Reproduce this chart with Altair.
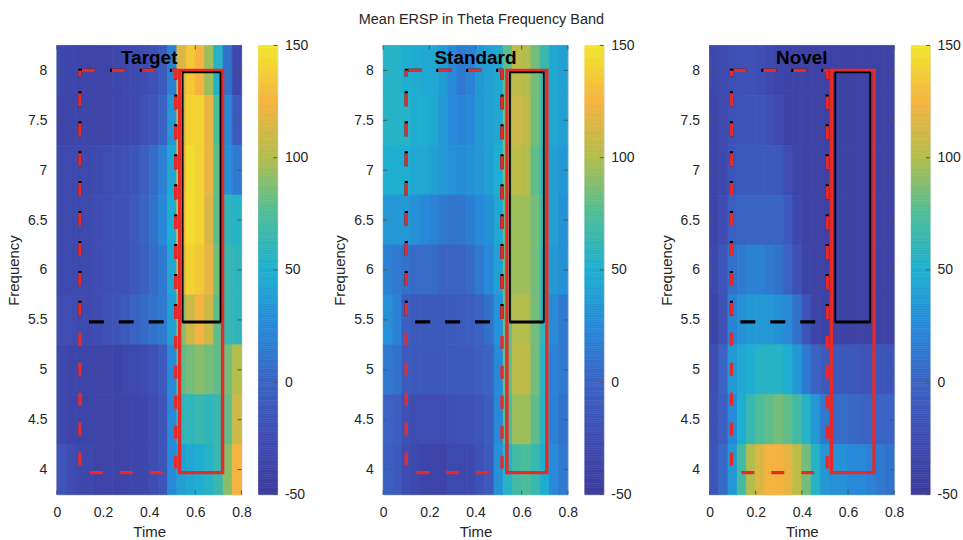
import altair as alt
import pandas as pd

# ---------------- data ----------------
times = [0.02, 0.06, 0.10, 0.14, 0.18, 0.22, 0.26, 0.30, 0.34, 0.38,
         0.42, 0.46, 0.50, 0.54, 0.58, 0.62, 0.66, 0.70, 0.74, 0.78]
freqs = [8.0, 7.5, 7.0, 6.5, 6.0, 5.5, 5.0, 4.5, 4.0]

target = [
    [-30, -32, -35, -35, -35, -35, -33, -30, -28, -25, -20, -10, 20, 115, 135, 125, 95, 55, 10, -30],
    [-35, -35, -35, -35, -35, -35, -33, -30, -28, -20, -15, 0, 35, 115, 140, 140, 120, 75, 25, -10],
    [-30, -30, -30, -30, -28, -25, -22, -20, -15, -5, 5, 20, 45, 120, 145, 140, 120, 80, 30, 15],
    [-30, -30, -30, -28, -25, -22, -20, -18, -10, 0, 10, 25, 50, 125, 145, 140, 115, 80, 60, 55],
    [-30, -30, -30, -28, -25, -22, -20, -20, -12, -5, 5, 15, 45, 115, 140, 135, 120, 85, 65, 60],
    [-25, -25, -28, -28, -25, -20, -15, -10, 0, 5, 10, 15, 40, 90, 110, 125, 110, 80, 65, 60],
    [-30, -35, -35, -35, -35, -35, -35, -33, -30, -25, -20, -10, 25, 80, 85, 90, 85, 80, 85, 100],
    [-30, -35, -35, -35, -35, -35, -35, -35, -33, -30, -25, -15, 25, 60, 60, 65, 60, 65, 80, 110],
    [-15, -25, -30, -32, -35, -35, -35, -35, -33, -30, -25, -15, 25, 40, 45, 50, 55, 65, 90, 125],
]
standard = [
    [55, 55, 50, 48, 45, 45, 38, 25, 15, 20, 35, 40, 45, 80, 105, 100, 85, 65, 45, 40],
    [55, 55, 55, 50, 50, 45, 35, 25, 22, 25, 35, 40, 45, 85, 110, 105, 85, 65, 45, 40],
    [50, 50, 50, 45, 45, 40, 35, 30, 28, 30, 35, 40, 50, 85, 105, 100, 80, 60, 40, 35],
    [35, 35, 35, 30, 25, 20, 15, 12, 12, 18, 25, 30, 45, 80, 95, 95, 85, 65, 40, 30],
    [20, 15, 10, 5, 5, 5, 0, 0, 0, 5, 15, 25, 40, 80, 95, 95, 85, 60, 35, 30],
    [30, 20, -5, -10, -10, -10, -10, -10, -8, -5, 0, 10, 30, 80, 100, 100, 85, 60, 25, 15],
    [15, 10, -10, -12, -12, -12, -12, -10, -10, -10, -5, 0, 25, 80, 105, 105, 85, 55, 20, 15],
    [0, -5, -20, -25, -25, -25, -25, -22, -20, -20, -15, -5, 25, 75, 95, 95, 80, 55, 20, 10],
    [-5, -10, -25, -30, -35, -35, -35, -30, -30, -28, -20, -10, 30, 55, 70, 75, 65, 50, 25, 15],
]
novel = [
    [-30, -28, -22, -20, -20, -22, -28, -35, -38, -38, -38, -40, -40, -40, -40, -40, -40, -40, -40, -40],
    [-35, -30, -20, -15, -15, -15, -20, -30, -38, -40, -40, -40, -40, -40, -40, -40, -40, -40, -40, -40],
    [-35, -30, -15, -10, -10, -10, -10, -12, -25, -35, -40, -40, -40, -40, -40, -40, -40, -40, -40, -40],
    [-35, -25, -5, 0, 0, 0, 0, 0, -10, -30, -40, -40, -40, -40, -40, -40, -40, -40, -40, -40],
    [-30, -15, 10, 15, 20, 20, 15, 10, 0, -20, -35, -40, -40, -40, -40, -40, -40, -40, -40, -40],
    [-35, -20, 20, 30, 35, 35, 35, 30, 25, 10, -15, -35, -38, -40, -40, -40, -40, -40, -40, -40],
    [-25, 0, 35, 45, 50, 55, 55, 55, 50, 35, 15, 0, -10, -12, -12, -12, -15, -15, -15, -15],
    [-20, -5, 25, 50, 65, 75, 80, 85, 80, 70, 55, 35, 15, 5, 5, 3, 0, 0, 0, 0],
    [-15, 5, 35, 70, 100, 115, 125, 125, 120, 105, 85, 55, 35, 30, 30, 25, 25, 20, 15, 10],
]

panel_names = ["Target", "Standard", "Novel"]
panel_values = [target, standard, novel]

# analysis windows (time x frequency) drawn on each panel
dashed_x = [[0.10, 0.515], [0.10, 0.515], [0.095, 0.51]]
red_x = [[0.532, 0.718], [0.536, 0.709], [0.528, 0.713]]
black_x = [[0.545, 0.709], [0.549, 0.696], [0.545, 0.696]]
dashed_black_y = [5.48, 8.0]
red_y = [3.97, 8.0]
black_y = [5.48, 7.98]

x_ticks = [0, 0.2, 0.4, 0.6, 0.8]
y_ticks = [4, 4.5, 5, 5.5, 6, 6.5, 7, 7.5, 8]
cbar_ticks = [-50, 0, 50, 100, 150]

title_text = "Mean ERSP in Theta Frequency Band"

# ---------------- styling ----------------
FONT = "Liberation Sans"
TXT = "#262626"
RED = "#e62a2a"
cmap_domain = [-50, -25, 0, 25, 50, 75, 100, 125, 150]
cmap_range = ["#3b3b9b", "#3f4cb2", "#3a63c3", "#2789d8", "#1eafd0",
              "#4cbd98", "#b2bd4c", "#f5b33f", "#f2e62c"]
cscale = alt.Scale(domain=cmap_domain, range=cmap_range, interpolate="rgb")

W, H = 185, 450
CW = 19

xscale = alt.Scale(domain=[0, 0.8], nice=False, zero=False)
yscale = alt.Scale(domain=[3.75, 8.25], nice=False, zero=False)


def heat_df(vals):
    rows = []
    for i, f in enumerate(freqs):
        for j, t in enumerate(times):
            rows.append({"t0": round(t - 0.02, 4), "t1": round(t + 0.02, 4),
                         "f0": f - 0.25, "f1": f + 0.25, "v": vals[i][j]})
    return pd.DataFrame(rows)


def make_panel(k):
    name = panel_names[k]
    df = heat_df(panel_values[k])
    heat = alt.Chart(df).mark_rect(strokeWidth=0.8).encode(
        x=alt.X("t0:Q", scale=xscale,
                axis=alt.Axis(values=x_ticks, format=".1~f", title="Time", grid=False,
                              ticks=False, domain=False, labelFlush=False,
                              labelPadding=11, titlePadding=5,
                              labelFontSize=14, titleFontSize=15,
                              labelFont=FONT, titleFont=FONT,
                              labelColor=TXT, titleColor=TXT, titleFontWeight="normal")),
        x2="t1:Q",
        y=alt.Y("f0:Q", scale=yscale,
                axis=alt.Axis(values=y_ticks, format=".1~f", title="Frequency", grid=False,
                              ticks=False, domain=False, labelFlush=False,
                              labelPadding=10, titlePadding=6,
                              labelFontSize=14, titleFontSize=15,
                              labelFont=FONT, titleFont=FONT,
                              labelColor=TXT, titleColor=TXT, titleFontWeight="normal")),
        y2="f1:Q",
        color=alt.Color("v:Q", scale=cscale, legend=None),
        stroke=alt.Stroke("v:Q", scale=cscale, legend=None),
    )

    ydf = pd.DataFrame({"f": y_ticks})
    xdf = pd.DataFrame({"t": x_ticks})
    tick_style = dict(color="#555555", strokeWidth=1)
    yl = alt.Chart(ydf).mark_rule(**tick_style).encode(
        y=alt.Y("f:Q", scale=yscale), x=alt.value(0), x2=alt.value(4))
    yr = alt.Chart(ydf).mark_rule(**tick_style).encode(
        y=alt.Y("f:Q", scale=yscale), x=alt.value(W - 4), x2=alt.value(W))
    xb = alt.Chart(xdf).mark_rule(**tick_style).encode(
        x=alt.X("t:Q", scale=xscale), y=alt.value(H - 4), y2=alt.value(H))
    xt = alt.Chart(xdf).mark_rule(**tick_style).encode(
        x=alt.X("t:Q", scale=xscale), y=alt.value(0), y2=alt.value(4))

    def box_df(xs, ys):
        return pd.DataFrame({"x0": [xs[0]], "x1": [xs[1]], "y0": [ys[0]], "y1": [ys[1]]})

    def box_enc(c):
        return c.encode(x=alt.X("x0:Q", scale=xscale), x2="x1:Q",
                        y=alt.Y("y0:Q", scale=yscale), y2="y1:Q")

    black_dash = box_enc(alt.Chart(box_df(dashed_x[k], dashed_black_y)).mark_rect(
        fill="transparent", stroke="black", strokeWidth=3.2, strokeDash=[15, 15]))
    red_dash = box_enc(alt.Chart(box_df(dashed_x[k], red_y)).mark_rect(
        fill="transparent", stroke=RED, strokeWidth=3.4, strokeDash=[13, 17],
        strokeDashOffset=28))
    red_box = box_enc(alt.Chart(box_df(red_x[k], red_y)).mark_rect(
        fill="transparent", stroke=RED, strokeWidth=3.4))
    black_box = box_enc(alt.Chart(box_df(black_x[k], black_y)).mark_rect(
        fill="transparent", stroke="black", strokeWidth=1.8))
    black_floor = alt.Chart(box_df(black_x[k], black_y)).mark_rule(
        color="black", strokeWidth=3).encode(
        x=alt.X("x0:Q", scale=xscale), x2="x1:Q", y=alt.Y("y0:Q", scale=yscale))

    label = alt.Chart(pd.DataFrame({"name": [name]})).mark_text(
        font=FONT, fontSize=19, fontWeight="bold", color="black", baseline="middle"
    ).encode(x=alt.datum(0.4), y=alt.datum(8.12), text="name:N")

    panel = alt.layer(heat, yl, yr, xb, xt, black_dash, red_dash, red_box,
                      black_box, black_floor, label).properties(width=W, height=H)

    cseq = alt.Chart(alt.sequence(start=-50, stop=150, step=1, as_="c")).transform_calculate(
        c2="datum.c + 1", cm="datum.c + 0.5"
    ).mark_rect(strokeWidth=0.6).encode(
        y=alt.Y("c:Q", scale=alt.Scale(domain=[-50, 150], nice=False, zero=False),
                axis=alt.Axis(orient="right", values=cbar_ticks, title=None, grid=False,
                              ticks=False, domain=False, labelFlush=False,
                              labelPadding=7, labelFontSize=14, labelFont=FONT,
                              labelColor=TXT, labelExpr="toString(datum.value)")),
        y2="c2:Q",
        x=alt.value(0), x2=alt.value(CW),
        color=alt.Color("cm:Q", scale=cscale, legend=None),
        stroke=alt.Stroke("cm:Q", scale=cscale, legend=None),
    )
    cdf = pd.DataFrame({"c": cbar_ticks})
    cticks = alt.Chart(cdf).mark_rule(color="#555555", strokeWidth=1).encode(
        y=alt.Y("c:Q", scale=alt.Scale(domain=[-50, 150], nice=False, zero=False)),
        x=alt.value(CW - 4), x2=alt.value(CW))
    cbar = alt.layer(cseq, cticks).properties(width=CW, height=H)

    return alt.hconcat(panel, cbar, spacing=17, bounds="flush").resolve_scale(
        y="independent", x="independent")


groups = [make_panel(k) for k in range(3)]

chart = alt.hconcat(*groups, spacing=24).resolve_scale(
    y="independent", x="independent"
).properties(
    title=alt.TitleParams(title_text, font=FONT, fontSize=14.5, fontWeight="normal",
                          color=TXT, anchor="middle", offset=11, dx=-2),
    padding={"left": 6, "top": 11, "right": 2, "bottom": 0},
    autosize=alt.AutoSizeParams(type="pad"),
).configure_view(stroke="#888888", strokeWidth=1).configure(background="white")

chart.save("out.html", embed_options={"renderer": "svg", "actions": False})
